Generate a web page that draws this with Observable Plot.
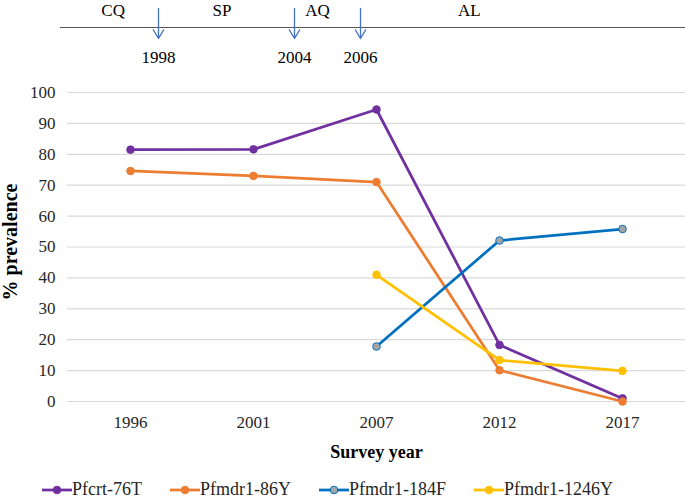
<!DOCTYPE html>
<html><head><meta charset="utf-8">
<script src="https://cdn.jsdelivr.net/npm/d3@7"></script>
<script src="https://cdn.jsdelivr.net/npm/@observablehq/plot@0.6"></script>
<style>
body{margin:0;background:#fff;}
#chart{position:relative;width:685px;height:498px;font-family:"Liberation Serif","Times New Roman",serif;overflow:hidden;}
#timeline{position:absolute;left:0;top:0;}
#main{position:absolute;left:0;top:70px;}
#legend{position:absolute;left:42px;top:481px;height:17px;display:flex;gap:28px;font-size:18px;line-height:17px;align-items:center;color:#262626;}
.item{display:flex;align-items:center;}
.item svg{display:block;}
</style></head><body>
<div id="chart"><div id="timeline"></div><div id="main"></div><div id="legend"></div></div>
<script>
// ---- data ----
const years = ["1996", "2001", "2007", "2012", "2017"];
const pfcrt76T   = [81.5, 81.6, 94.5, 18.3, 1.0];
const pfmdr86Y   = [74.6, 73.0, 71.0, 10.1, 0.0];
const pfmdr184F  = [null, null, 17.8, 52.1, 55.8];
const pfmdr1246Y = [null, null, 41.0, 13.4, 9.9];
const seriesNames  = ["Pfcrt-76T", "Pfmdr1-86Y", "Pfmdr1-184F", "Pfmdr1-1246Y"];
const seriesColors = ["#7030A0", "#ED7D31", "#0070C0", "#FFC000"];
const markerFills  = ["#7030A0", "#ED7D31", "#A5A5A5", "#FFC000"];
const yTicks = [0, 10, 20, 30, 40, 50, 60, 70, 80, 90, 100];
const policyChangeYears = [1998, 2004, 2006];
const drugs = ["CQ", "SP", "AQ", "AL"];
const drugMidYears = [1996, 2000.8, 2004.7, 2009.3];

const allSeries = [pfcrt76T, pfmdr86Y, pfmdr184F, pfmdr1246Y];
const rows = [];
allSeries.forEach((vals, s) => vals.forEach((v, i) => {
  if (v !== null) rows.push({year: years[i], value: v, series: seriesNames[s], stroke: seriesColors[s], fill: markerFills[s]});
}));

const font = "'Liberation Serif','Times New Roman',serif";

// ---- timeline of drug policy (schematic, piecewise time axis) ----
const timeline = Plot.plot({
  width: 685, height: 70,
  marginLeft: 60, marginRight: 0, marginTop: 0, marginBottom: 0,
  style: {fontFamily: font, fontSize: "17px", color: "#000", background: "transparent"},
  x: {type: "linear", domain: [1998, 2004, 2006], range: [158, 294, 360], axis: null},
  y: {type: "linear", domain: [0, 1], range: [8, 38], axis: null},
  marks: [
    Plot.ruleY([0], {dy: 19, stroke: "#555", strokeWidth: 1.2}),
    Plot.arrow(policyChangeYears, {x: d => d, y1: () => 0, y2: () => 1, stroke: "#4472C4", strokeWidth: 1.3, headLength: 13, headAngle: 62}),
    Plot.text(drugs, {x: (d, i) => drugMidYears[i], y: () => 0, dy: 2, text: d => d, lineAnchor: "middle", fill: "#000"}),
    Plot.text(policyChangeYears, {x: d => d, y: () => 1, dy: 19, text: d => String(d), lineAnchor: "middle", fill: "#000"})
  ]
});
document.getElementById("timeline").append(timeline);

// ---- main chart ----
const main = Plot.plot({
  width: 685, height: 400,
  marginTop: 22, marginBottom: 69, marginLeft: 67, marginRight: 0,
  style: {fontFamily: font, fontSize: "17px", color: "#262626", background: "transparent"},
  x: {type: "point", domain: years, padding: 0.5, label: null},
  y: {domain: [0, 100], label: null},
  color: {type: "identity"},
  marks: [
    Plot.gridY(yTicks, {stroke: "#D9D9D9", strokeOpacity: 1, strokeWidth: 1.2}),
    Plot.axisY(yTicks, {tickSize: 0, tickPadding: 12, label: null}),
    Plot.axisX({tickSize: 0, tickPadding: 14, label: null}),
    Plot.line(rows, {x: "year", y: "value", z: "series", stroke: "stroke", strokeWidth: 2.75}),
    Plot.dot(rows, {x: "year", y: "value", fill: "fill", stroke: "stroke", r: 3.8, strokeWidth: 1}),
    Plot.text(["Survey year"], {frameAnchor: "bottom", dy: 51, text: d => d, lineAnchor: "middle", fontWeight: "bold", fontSize: 18, fill: "#000"}),
    Plot.text(["% prevalence"], {frameAnchor: "left", dx: -57, dy: -5, rotate: -90, textAnchor: "middle", lineAnchor: "middle", text: d => d, fontWeight: "bold", fontSize: 20, fill: "#000"})
  ]
});
document.getElementById("main").append(main);

// ---- legend ----
const legend = document.getElementById("legend");
seriesNames.forEach((name, i) => {
  const item = document.createElement("div");
  item.className = "item";
  item.innerHTML = `<svg width="30" height="12"><line x1="0" x2="30" y1="6" y2="6" stroke="${seriesColors[i]}" stroke-width="2.75"/><circle cx="15" cy="6" r="3.8" fill="${markerFills[i]}" stroke="${seriesColors[i]}" stroke-width="1"/></svg><span>${name}</span>`;
  legend.append(item);
});
</script>
</body></html>
